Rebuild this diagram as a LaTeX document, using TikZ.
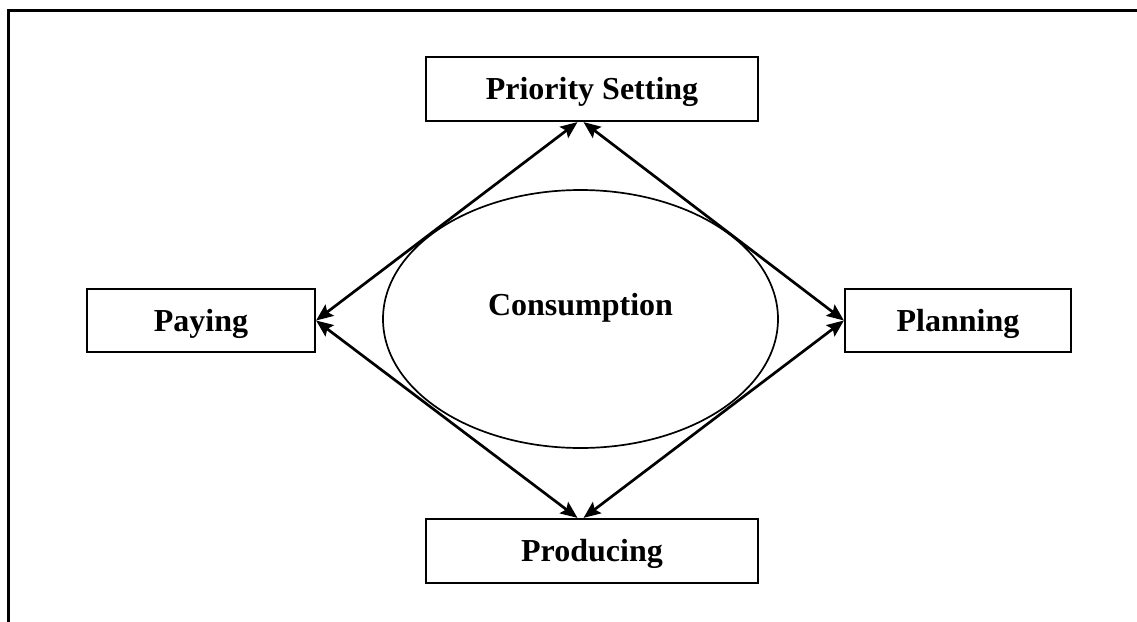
\documentclass[tikz,border=0pt]{standalone}
\usepackage{fontspec}
\setmainfont{Liberation Serif}
\usetikzlibrary{shapes.geometric,arrows.meta,calc}
\begin{document}
\begin{tikzpicture}[
  x=0.5pt, y=-0.5pt,
  every node/.style={font=\fontsize{16}{19}\selectfont\bfseries},
  box/.style={draw, line width=1.1pt, inner sep=0pt, align=center,
    text height=21pt, text depth=10.5pt},
  oval/.style={draw, ellipse, line width=0.85pt, inner sep=0pt,
    text height=5pt, text depth=9pt},
  tip/.style={Stealth[length=8.5pt,width=7pt,inset=1.5pt]},
  link/.style={line width=1.35pt, {Stealth[length=8.5pt,width=7pt,inset=1.5pt]}-{Stealth[length=8.5pt,width=7pt,inset=1.5pt]}}
]
\useasboundingbox (0,0) rectangle (1137,622);
% outer frame (top and left edges)
\draw[line width=1.5pt] (8,622) -- (8,10.5) -- (1137,10.5);

% central ellipse
\node[oval, minimum width=197.5pt, minimum height=129pt] (cons) at (580.5,319) {Consumption};

% surrounding boxes
\node[box, minimum width=166pt, minimum height=32pt]   (ps)   at (592,89)    {Priority Setting};
\node[box, minimum width=114pt, minimum height=31.5pt] (pay)  at (201,320.5) {Paying};
\node[box, minimum width=113pt, minimum height=31.5pt] (plan) at (958,320.5) {Planning};
\node[box, minimum width=166pt, minimum height=32pt]   (prod) at (592,551)   {Producing};

% double-headed connectors forming a diamond
\draw[link] ([xshift=-1.5pt]ps.south -| cons.center) -- (pay.east);
\draw[link] ([xshift=1.5pt]ps.south -| cons.center) -- (plan.west);
\draw[link] (pay.east) -- ([xshift=-1.5pt]prod.north -| cons.center);
\draw[link] (plan.west) -- ([xshift=1.5pt]prod.north -| cons.center);
\end{tikzpicture}
\end{document}
